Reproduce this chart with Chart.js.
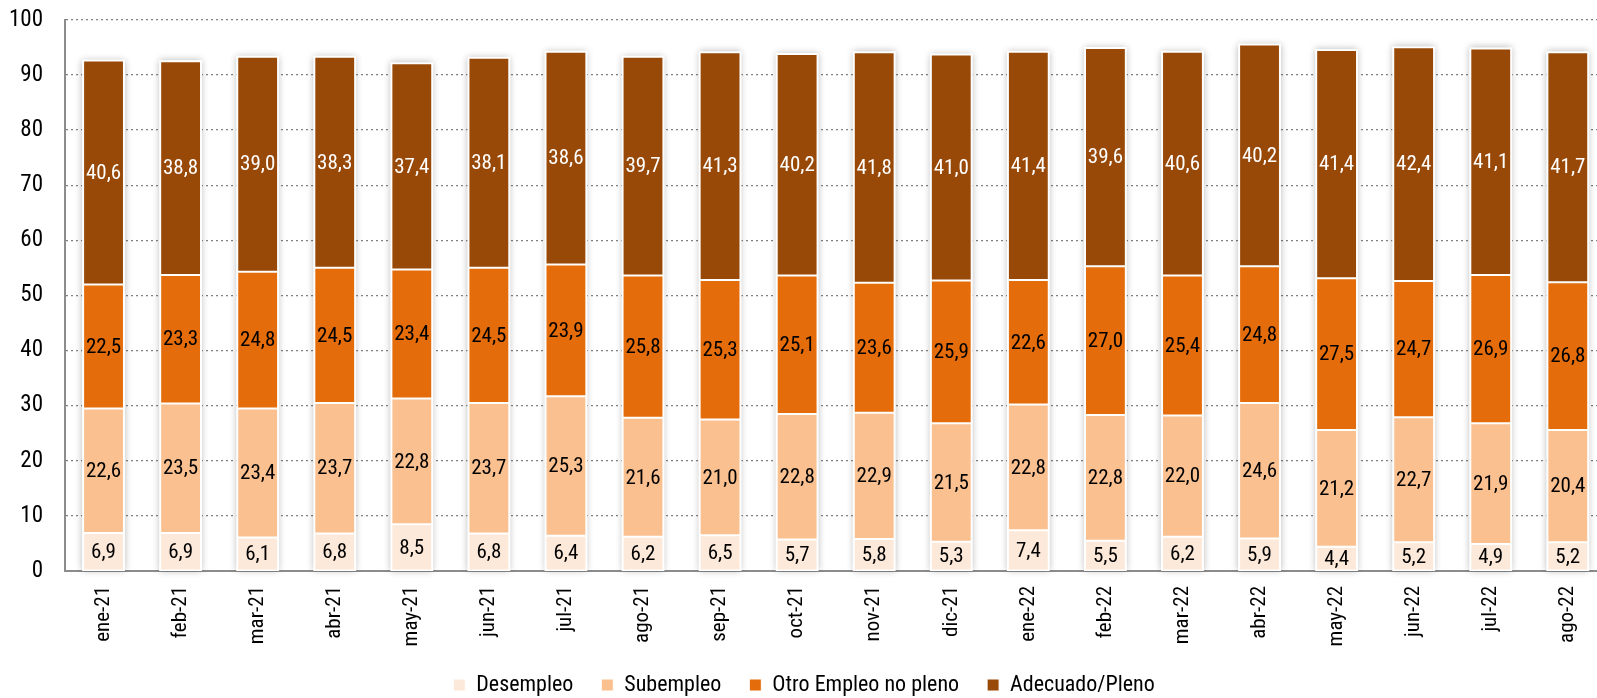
<!DOCTYPE html>
<html lang="es">
<head>
<meta charset="utf-8">
<title>Condición de actividad</title>
<script src="https://cdn.jsdelivr.net/npm/chart.js@4/dist/chart.umd.min.js"></script>
<style>
  html, body { margin: 0; padding: 0; background: #fff; overflow: hidden; }
  #wrap { position: relative; width: 1608px; height: 698px; }
</style>
</head>
<body>
<div id="wrap"><canvas id="chart"></canvas></div>
<script>
const meses = ['ene-21', 'feb-21', 'mar-21', 'abr-21', 'may-21', 'jun-21', 'jul-21', 'ago-21', 'sep-21', 'oct-21',
               'nov-21', 'dic-21', 'ene-22', 'feb-22', 'mar-22', 'abr-22', 'may-22', 'jun-22', 'jul-22', 'ago-22'];

const desempleo = [6.9, 6.9, 6.1, 6.8, 8.5, 6.8, 6.4, 6.2, 6.5, 5.7, 5.8, 5.3, 7.4, 5.5, 6.2, 5.9, 4.4, 5.2, 4.9, 5.2];
const subempleo = [22.6, 23.5, 23.4, 23.7, 22.8, 23.7, 25.3, 21.6, 21.0, 22.8, 22.9, 21.5, 22.8, 22.8, 22.0, 24.6, 21.2, 22.7, 21.9, 20.4];
const otroNoPleno = [22.5, 23.3, 24.8, 24.5, 23.4, 24.5, 23.9, 25.8, 25.3, 25.1, 23.6, 25.9, 22.6, 27.0, 25.4, 24.8, 27.5, 24.7, 26.9, 26.8];
const adecuado = [40.6, 38.8, 39.0, 38.3, 37.4, 38.1, 38.6, 39.7, 41.3, 40.2, 41.8, 41.0, 41.4, 39.6, 40.6, 40.2, 41.4, 42.4, 41.1, 41.7];

const yTicks = [0, 10, 20, 30, 40, 50, 60, 70, 80, 90, 100];

const FONT = "'Roboto Condensed', 'Liberation Sans', sans-serif";

// soft halo behind each full stacked column
const columnShadow = {
    id: 'columnShadow',
    beforeDatasetsDraw(chart) {
        const { ctx, scales: { y } } = chart;
        const top = chart.getDatasetMeta(chart.data.datasets.length - 1).data;
        const base = y.getPixelForValue(0);
        ctx.save();
        ctx.fillStyle = '#ffffff';
        ctx.shadowColor = 'rgba(0,0,0,0.28)';
        ctx.shadowBlur = 7;
        top.forEach(bar => {
            const { x, y: yTop, width } = bar.getProps(['x', 'y', 'width'], true);
            ctx.fillRect(x - width / 2 - 1, yTop - 1, width + 2, base - yTop + 1);
        });
        ctx.restore();
    }
};

// value written in the middle of each segment, decimal comma
const segmentLabels = {
    id: 'segmentLabels',
    afterDatasetsDraw(chart) {
        const { ctx } = chart;
        ctx.save();
        ctx.font = '21px ' + FONT;
        ctx.textAlign = 'center';
        ctx.textBaseline = 'middle';
        chart.data.datasets.forEach((ds, di) => {
            const meta = chart.getDatasetMeta(di);
            ctx.fillStyle = ds.labelColor;
            meta.data.forEach((bar, i) => {
                const { x, y, base } = bar.getProps(['x', 'y', 'base'], true);
                ctx.fillText(ds.data[i].toFixed(1).replace('.', ','), x, (y + base) / 2 + 1);
            });
        });
        ctx.restore();
    }
};

// trim part of the legend's bottom margin so it sits close to the lower edge
const tightLegend = {
    id: 'tightLegend',
    beforeLayout(chart) {
        const lg = chart.legend;
        if (!lg || lg._tight) return;
        const fit = lg.fit;
        lg.fit = function () {
            fit.call(this);
            this.height -= 8;
        };
        lg._tight = true;
    }
};

const serie = (label, data, color, labelColor) => ({
    label, data, labelColor,
    backgroundColor: color,
    borderColor: '#ffffff',
    borderWidth: 1,
    borderSkipped: false,
    barPercentage: 0.53,
    categoryPercentage: 1.0,
});

new Chart(document.getElementById('chart'), {
    type: 'bar',
    data: {
        labels: meses,
        datasets: [
            serie('Desempleo', desempleo, '#FDE9D9', '#000'),
            serie('Subempleo', subempleo, '#FAC090', '#000'),
            serie('Otro Empleo no pleno', otroNoPleno, '#E46C0A', '#000'),
            serie('Adecuado/Pleno', adecuado, '#984807', '#fff'),
        ],
    },
    options: {
        responsive: true,
        maintainAspectRatio: false,
        animation: false,
        layout: { padding: 0 },
        plugins: {
            legend: {
                position: 'bottom',
                labels: {
                    color: '#000',
                    font: { family: FONT, size: 22 },
                    boxWidth: 12,
                    boxHeight: 12,
                    padding: 28,
                },
            },
            tooltip: { enabled: false },
        },
        scales: {
            x: {
                stacked: true,
                afterFit: s => { s.height = 75; },
                grid: { display: false, drawTicks: false },
                border: { display: true, color: '#8c8c8c', width: 2 },
                ticks: {
                    color: '#000',
                    font: { family: FONT, size: 21 },
                    minRotation: 90,
                    maxRotation: 90,
                    padding: 15,
                },
            },
            y: {
                stacked: true,
                min: 0,
                max: 100,
                afterBuildTicks: s => { s.ticks = yTicks.map(v => ({ value: v })); },
                afterFit: s => { s.width = 65; },
                // invisible tick marks keep the numbers away from the axis
                grid: { color: '#808080', lineWidth: 1.2, drawTicks: true, tickLength: 16, tickColor: 'rgba(0,0,0,0)' },
                border: { display: true, color: '#8c8c8c', width: 2, dash: [2, 3] },
                ticks: {
                    color: '#000',
                    font: { family: FONT, size: 23 },
                    padding: 6,
                },
            },
        },
    },
    plugins: [columnShadow, segmentLabels, tightLegend],
});
</script>
</body>
</html>
